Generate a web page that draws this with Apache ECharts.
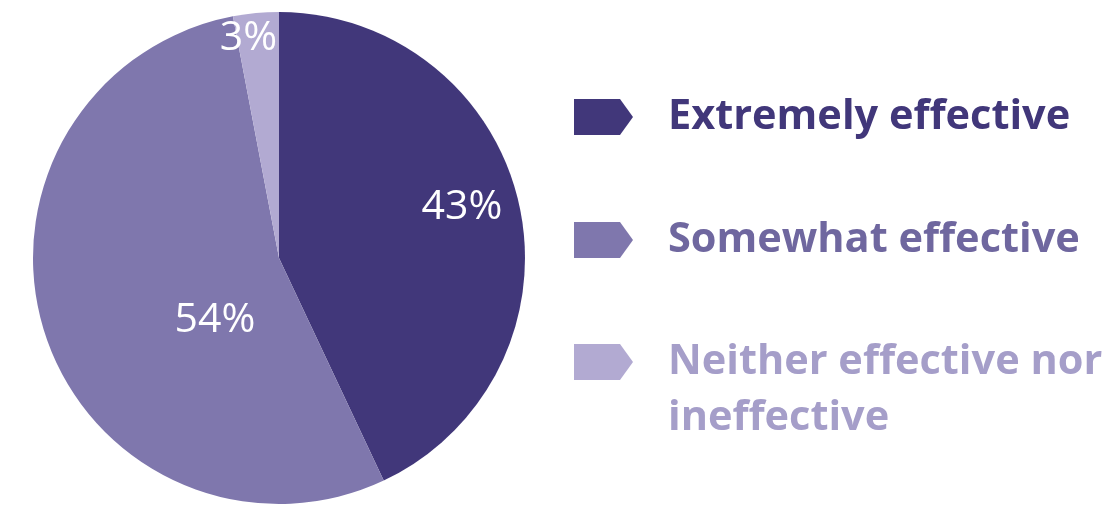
<!DOCTYPE html>
<html>
<head>
<meta charset="utf-8">
<script src="https://cdn.jsdelivr.net/npm/echarts@6/dist/echarts.min.js"></script>
<style>
  html, body { margin: 0; padding: 0; background: #ffffff; }
  #chart { width: 1114px; height: 505px; }
</style>
</head>
<body>
<div id="chart"></div>
<script>
// ---- data ----
const categories = ['Extremely effective', 'Somewhat effective', 'Neither effective nor\nineffective'];
const values = [43, 54, 3];
const valueLabels = ['43%', '54%', '3%'];

// ---- styles ----
const sliceColors = ['#41377a', '#7f77ad', '#b2aad2'];
const legendTextColors = ['#41377a', '#6f679f', '#a59ec9'];
const labelRadiusFrac = [0.772, 0.362, 0.903];
const labelAngleShift = [-3, -26, -2.5];
const legendTops = [89, 212, 278];
const CX = 279, CY = 258, R = 246;

const chart = echarts.init(document.getElementById('chart'), null, { renderer: 'canvas' });

const arrowIcon = 'path://M0,0L46,0L59,18L46,36L0,36Z';

const option = {
  animation: false,
  backgroundColor: '#ffffff',
  legend: categories.map((name, i) => ({
    orient: 'vertical',
    left: 574,
    top: legendTops[i],
    padding: 0,
    itemWidth: 59,
    itemHeight: 36,
    selectedMode: false,
    data: [{ name: name, icon: arrowIcon }],
    // a leading empty line keeps the first text line level with the icon
    formatter: (n) => (n.indexOf('\n') >= 0 ? '\n' + n : n),
    textStyle: {
      fontFamily: 'Open Sans',
      fontWeight: 'bold',
      fontSize: 41.5,
      lineHeight: 56,
      color: legendTextColors[i],
      padding: [0, 0, 0, 30]
    }
  })),
  series: [{
    type: 'pie',
    center: [CX, CY],
    radius: R,
    startAngle: 90,
    clockwise: true,
    avoidLabelOverlap: false,
    emphasis: { disabled: true },
    itemStyle: { borderWidth: 0 },
    label: {
      show: true,
      position: 'inside',
      color: '#ffffff',
      fontFamily: 'Open Sans',
      fontSize: 41,
      formatter: (p) => valueLabels[p.dataIndex]
    },
    labelLine: { show: false },
    labelLayout: function (params) {
      const i = params.dataIndex;
      const r = params.labelRect;
      const lx = r.x + r.width / 2, ly = r.y + r.height / 2;
      // angle measured clockwise from 12 o'clock
      const a = Math.atan2(lx - CX, -(ly - CY)) + labelAngleShift[i] * Math.PI / 180;
      const rr = labelRadiusFrac[i] * R;
      const tx = CX + rr * Math.sin(a), ty = CY - rr * Math.cos(a);
      return { dx: tx - lx, dy: ty - ly };
    },
    data: categories.map((name, i) => ({
      name: name,
      value: values[i],
      itemStyle: { color: sliceColors[i] }
    }))
  }]
};

chart.setOption(option);
</script>
</body>
</html>
